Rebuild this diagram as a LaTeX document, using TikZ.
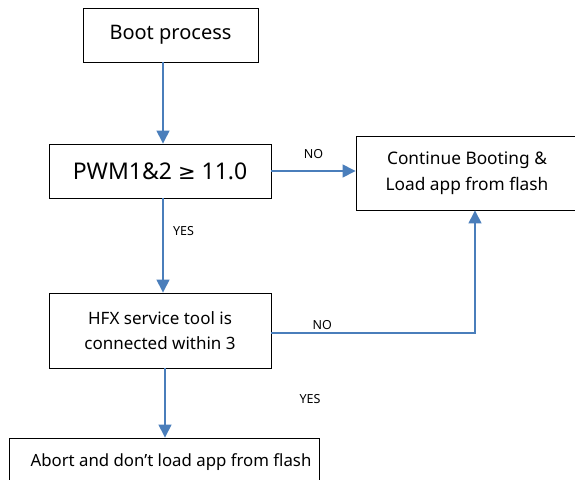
\documentclass[tikz,border=0pt]{standalone}
\usepackage{fontspec}
\setmainfont{Noto Sans}
\newfontfamily\symfont{DejaVu Sans}
\usetikzlibrary{arrows.meta,calc}
\begin{document}
\begin{tikzpicture}[x=1pt,y=-1pt,
  box/.style={draw=black,line width=0.9pt,inner sep=0pt,align=center},
  conn/.style={draw=arrowblue,line width=1.4pt},
  arr/.style={conn,-{Triangle[width=13pt,length=13pt]}},
  lbl/.style={font=\fontsize{12.5}{14}\selectfont}]
\definecolor{arrowblue}{HTML}{4A7EBB}
\useasboundingbox (0,0) rectangle (575,479);
\clip (0,0) rectangle (575,479);
\node[box,minimum width=175pt,minimum height=54pt,font=\fontsize{20}{24}\selectfont] (boot) at (170.5,35) {Boot process};
\node[box,minimum width=222pt,minimum height=54pt,font=\fontsize{23}{26}\selectfont] (pwm) at (160,171) {PWM1\&2 {\symfont\fontsize{21}{26}\selectfont ≥} 11.0};
\node[box,minimum width=222pt,minimum height=75pt,font=\fontsize{17}{25}\selectfont] (hfx) at (160,330.5) {HFX service tool is\\connected within 3};
\node[box,minimum width=222pt,minimum height=74pt,font=\fontsize{17.3}{26}\selectfont] (cont) at (467,173) {Continue Booting \&\\Load app from flash};
\node[box,minimum width=310pt,minimum height=48pt,font=\fontsize{16.8}{20}\selectfont] (abort) at (164,462) {\hspace*{14pt}Abort and don’t load app from flash};
\draw[arr] ([xshift=-7.5pt]boot.south) -- ([xshift=-7.5pt]boot.south |- pwm.north);
\draw[arr] ([xshift=3pt]pwm.south) -- ([xshift=3pt]pwm.south |- hfx.north) node[lbl,pos=0.35,right=6pt] {YES};
\draw[arr] (pwm.east) -- (pwm.east -| cont.west) node[lbl,midway,above=8pt] {NO};
\coordinate (hfxr) at ($(hfx.east)+(0,2.5)$);
\coordinate (corner) at (475,333);
\draw[arr] (hfxr) -- (corner) node[lbl,pos=0.25,above=-1pt] {NO} -- (corner |- cont.south);
\draw[arr] ([xshift=5pt]hfx.south) -- ([xshift=5pt]hfx.south |- abort.north);
\node[lbl] (yes2) at (310,399) {YES};
\end{tikzpicture}
\end{document}
